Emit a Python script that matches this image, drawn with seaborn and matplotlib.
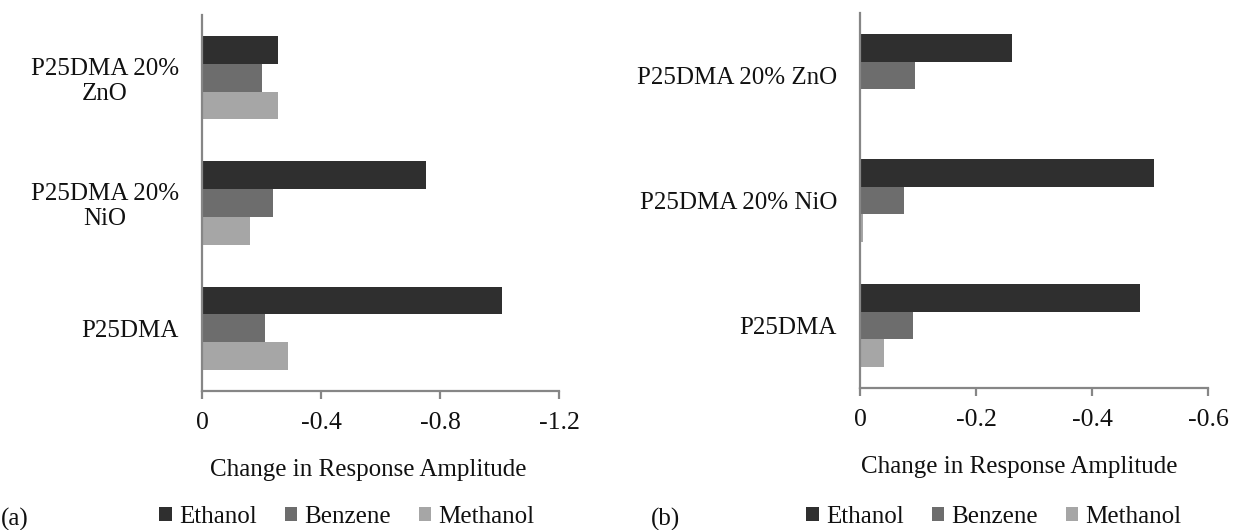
import matplotlib
matplotlib.use("Agg")
import matplotlib.pyplot as plt
from matplotlib.patches import Patch
from matplotlib.ticker import FixedLocator, FuncFormatter
import pandas as pd
import seaborn as sns

# ---- data -------------------------------------------------------------
solvents = ["Ethanol", "Benzene", "Methanol"]
samples_a = ["P25DMA 20%\nZnO", "P25DMA 20%\nNiO", "P25DMA"]
samples_b = ["P25DMA 20% ZnO", "P25DMA 20% NiO", "P25DMA"]

# (a) change in response amplitude, per sample (ZnO, NiO, neat)
ethanol_a = [-0.257, -0.753, -1.009]
benzene_a = [-0.201, -0.238, -0.212]
methanol_a = [-0.255, -0.162, -0.289]

# (b)
ethanol_b = [-0.262, -0.507, -0.482]
benzene_b = [-0.095, -0.076, -0.091]
methanol_b = [0.0, -0.006, -0.042]

ticks_a = [0, -0.4, -0.8, -1.2]
ticks_b = [0, -0.2, -0.4, -0.6]

colors = ["#2f2f2f", "#6d6d6d", "#a6a6a6"]
axis_gray = "#868686"


def long_table(samples, eth, ben, meth):
    rows = []
    for s, e, b, m in zip(samples, eth, ben, meth):
        rows.append((s, "Ethanol", e))
        rows.append((s, "Benzene", b))
        rows.append((s, "Methanol", m))
    return pd.DataFrame(rows, columns=["Sample", "Solvent", "Change"])


df_a = long_table(samples_a, ethanol_a, benzene_a, methanol_a)
df_b = long_table(samples_b, ethanol_b, benzene_b, methanol_b)

sns.set_style("white")
plt.rcParams["font.family"] = ["Liberation Serif", "DejaVu Serif"]
plt.rcParams["axes.unicode_minus"] = False

W, H = 1234, 530
fig = plt.figure(figsize=(W / 100, H / 100), dpi=100)


def px_axes(x0, x1, ytop, ybot):
    return fig.add_axes([x0 / W, 1 - ybot / H, (x1 - x0) / W, (ybot - ytop) / H])


ax_a = px_axes(202, 559, 15, 391)
ax_b = px_axes(860, 1208, 13, 388)


def draw(ax, df, samples, ticks, xlab_x):
    sns.barplot(data=df, y="Sample", x="Change", hue="Solvent",
                order=samples, hue_order=solvents, palette=colors,
                orient="h", width=0.667, saturation=1, legend=False,
                errorbar=None, linewidth=0, ax=ax)
    ax.set_xlim(0, ticks[-1])
    ax.set_ylim(2.5, -0.5)
    ax.xaxis.set_major_locator(FixedLocator(ticks))
    ax.xaxis.set_major_formatter(FuncFormatter(lambda v, p: f"{v:g}"))
    for side in ("top", "right"):
        ax.spines[side].set_visible(False)
    for side in ("left", "bottom"):
        ax.spines[side].set_color(axis_gray)
        ax.spines[side].set_linewidth(1.6)
    ax.tick_params(axis="x", which="major", direction="out", length=6,
                   width=1.6, color=axis_gray, pad=9, labelsize=18.5,
                   labelcolor="#111111", bottom=True)
    ax.tick_params(axis="y", length=0, pad=16.5, labelsize=18,
                   labelcolor="#111111", left=False)
    for lbl in ax.get_yticklabels():
        lbl.set_multialignment("center")
        lbl.set_linespacing(1.15)
    ax.set_ylabel("")
    ax.set_xlabel("Change in Response Amplitude", fontsize=18,
                  color="#111111")
    ax.xaxis.label.set_va("center")
    ax.xaxis.set_label_coords(xlab_x, -0.21)


draw(ax_a, df_a, samples_a, ticks_a, 0.465)
draw(ax_b, df_b, samples_b, ticks_b, 0.457)

handles = [Patch(facecolor=c, edgecolor="none", label=s)
           for c, s in zip(colors, solvents)]
for cx in (347, 994):
    fig.legend(handles=handles, loc="center",
               bbox_to_anchor=(cx / W, 1 - 517 / H), ncol=3, frameon=False,
               fontsize=18, handlelength=0.5, handleheight=0.5,
               handletextpad=0.3, columnspacing=1.1, borderpad=0,
               labelcolor="#111111")

fig.text(15 / W, 1 - 519 / H, "(a)", fontsize=18, ha="center", va="center",
         color="#111111")
fig.text(665 / W, 1 - 519 / H, "(b)", fontsize=18, ha="center", va="center",
         color="#111111")

fig.savefig("out.png", dpi=100, facecolor="white")
